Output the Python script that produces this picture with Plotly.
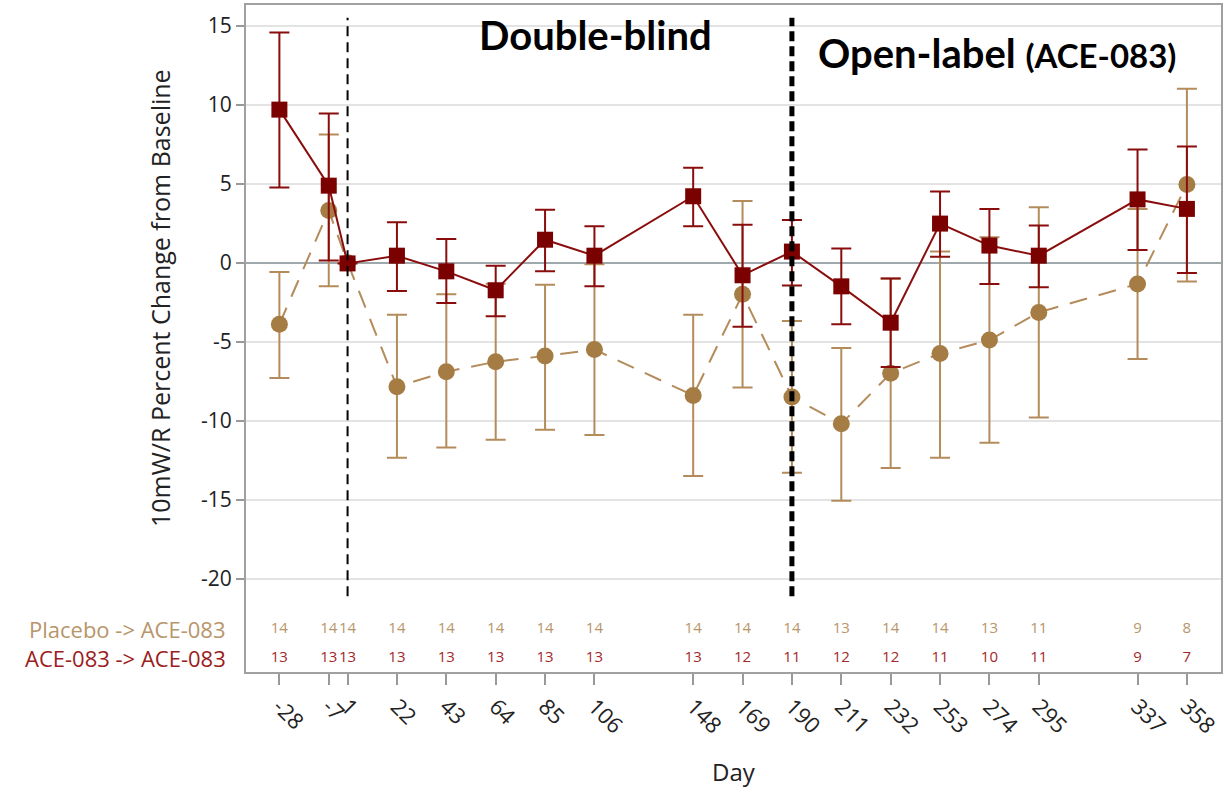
import plotly.graph_objects as go

days = [-28, -7, 1, 22, 43, 64, 85, 106, 148, 169, 190, 211, 232, 253, 274, 295, 337, 358]
tick_text = ["-28", "-7", "1", "22", "43", "64", "85", "106", "148", "169", "190", "211", "232", "253", "274", "295", "337", "358"]

ace_mean = [9.68, 4.87, -0.05, 0.44, -0.55, -1.75, 1.45, 0.44, 4.2, -0.8, 0.7, -1.5, -3.8, 2.47, 1.08, 0.44, 4.0, 3.4]
ace_upper = [14.56, 9.43, None, 2.55, 1.5, -0.2, 3.35, 2.3, 6.0, 2.4, 2.7, 0.9, -1.0, 4.5, 3.4, 2.35, 7.15, 7.35]
ace_lower = [4.75, 0.13, None, -1.8, -2.55, -3.4, -0.55, -1.5, 2.3, -4.05, -1.45, -3.9, -6.6, 0.37, -1.35, -1.55, 0.8, -0.65]

pla_mean = [-3.9, 3.3, 0.0, -7.85, -6.9, -6.27, -5.9, -5.5, -8.4, -2.0, -8.5, -10.2, -7.0, -5.75, -4.9, -3.15, -1.35, 4.95]
pla_upper = [-0.6, 8.1, None, -3.3, -2.0, -1.33, -1.4, -0.1, -3.3, 3.9, -3.7, -5.4, -1.0, 0.7, 1.6, 3.5, 3.4, 11.0]
pla_lower = [-7.3, -1.5, None, -12.35, -11.7, -11.2, -10.57, -10.9, -13.5, -7.9, -13.3, -15.06, -13.0, -12.35, -11.4, -9.8, -6.1, -1.2]

n_placebo = [14, 14, 14, 14, 14, 14, 14, 14, 14, 14, 14, 13, 14, 14, 13, 11, 9, 8]
n_ace = [13, 13, 13, 13, 13, 13, 13, 13, 13, 12, 11, 12, 12, 11, 10, 11, 9, 7]

y_ticks = [-20, -15, -10, -5, 0, 5, 10, 15]
y_tick_text = ["-20", "-15", "-10", "-5", "0", "5", "10", "15"]

PLA_LINE = "#b48c5c"
PLA_MARK = "#a67c45"
ACE_LINE = "#8a0d0d"
ACE_MARK = "#7b0000"
FONT = "Open Sans"


def err(upper, lower, mean):
    plus = [None if u is None else u - m for u, m in zip(upper, mean)]
    minus = [None if l is None else m - l for l, m in zip(lower, mean)]
    return plus, minus


fig = go.Figure()

p_plus, p_minus = err(pla_upper, pla_lower, pla_mean)
fig.add_trace(go.Scatter(
    x=days, y=pla_mean, mode="lines+markers",
    line=dict(color=PLA_LINE, width=2, dash="18px,12px"),
    marker=dict(symbol="circle", size=17, color=PLA_MARK),
    error_y=dict(type="data", array=p_plus, arrayminus=p_minus, color=PLA_LINE,
                 thickness=2, width=10),
    showlegend=False, hoverinfo="skip"))

a_plus, a_minus = err(ace_upper, ace_lower, ace_mean)
fig.add_trace(go.Scatter(
    x=days, y=ace_mean, mode="lines+markers",
    line=dict(color=ACE_LINE, width=2),
    marker=dict(symbol="square", size=16, color=ACE_MARK),
    error_y=dict(type="data", array=a_plus, arrayminus=a_minus, color=ACE_LINE,
                 thickness=2, width=10),
    showlegend=False, hoverinfo="skip"))

# at-risk counts
fig.add_trace(go.Scatter(
    x=days, y=[-23.2] * len(days), mode="text", text=[str(v) for v in n_placebo],
    textfont=dict(family=FONT, size=15, color="#b8956a"),
    showlegend=False, hoverinfo="skip", cliponaxis=False))
fig.add_trace(go.Scatter(
    x=days, y=[-25.0] * len(days), mode="text", text=[str(v) for v in n_ace],
    textfont=dict(family=FONT, size=15, color="#a3282b"),
    showlegend=False, hoverinfo="skip", cliponaxis=False))

# vertical dashed lines (start of double-blind and open-label periods)
fig.add_shape(type="line", x0=1, x1=1, y0=-21.1, y1=15.5, xref="x", yref="y",
              line=dict(color="black", width=2, dash="10px,6px"))
fig.add_shape(type="line", x0=190, x1=190, y0=-21.1, y1=15.5, xref="x", yref="y",
              line=dict(color="black", width=5, dash="10px,5px"))

fig.add_annotation(text="<b>Double-blind</b>", x=0.358, y=0.955, xref="paper", yref="paper",
                   showarrow=False, font=dict(family="Lato", size=40, color="black"),
                   xanchor="center", yanchor="middle")
fig.add_annotation(text="<b>Open-label <span style='font-size:33px'>(ACE-083)</span></b>",
                   x=0.770, y=0.928, xref="paper", yref="paper",
                   showarrow=False, font=dict(family="Lato", size=40, color="black"),
                   xanchor="center", yanchor="middle")

fig.add_annotation(text="10mW/R Percent Change from Baseline", x=-0.088, y=0.561,
                   xref="paper", yref="paper", textangle=-90, showarrow=False,
                   font=dict(family=FONT, size=25, color="#222"),
                   xanchor="center", yanchor="middle")

fig.add_annotation(text="Placebo -> ACE-083", x=-0.018, y=-23.2, xref="paper", yref="y",
                   showarrow=False, xanchor="right", yanchor="middle",
                   font=dict(family=FONT, size=22, color="#b8956a"))
fig.add_annotation(text="ACE-083 -> ACE-083", x=-0.018, y=-25.0, xref="paper", yref="y",
                   showarrow=False, xanchor="right", yanchor="middle",
                   font=dict(family=FONT, size=22, color="#9b1c20"))

fig.update_layout(
    width=1224, height=792,
    margin=dict(l=246, r=3, t=5, b=120),
    plot_bgcolor="white", paper_bgcolor="white",
    font=dict(family=FONT, color="#222"),
    xaxis=dict(range=[-42.2, 372.5], tickmode="array", tickvals=days, ticktext=tick_text,
               tickangle=45, tickfont=dict(size=22, color="#222"),
               ticks="outside", ticklen=11, tickwidth=2, tickcolor="#999",
               showgrid=False, zeroline=False, automargin=False,
               showline=True, linecolor="#a0a0a0", linewidth=2, mirror=True,
               title=dict(text="Day", font=dict(size=24, color="#222"), standoff=26)),
    yaxis=dict(range=[-25.9, 16.3], tickmode="array", tickvals=y_ticks, ticktext=y_tick_text,
               tickfont=dict(size=21, color="#222"), automargin=False,
               ticks="outside", ticklen=8, tickwidth=2, tickcolor="#999",
               showgrid=True, gridcolor="#e3e3e3", gridwidth=2,
               zeroline=True, zerolinecolor="#9ea8ad", zerolinewidth=2,
               showline=True, linecolor="#a0a0a0", linewidth=2, mirror=True),
)

fig.write_html("out.html", config={"displayModeBar": False},
               post_script="document.body.style.margin='0';")
